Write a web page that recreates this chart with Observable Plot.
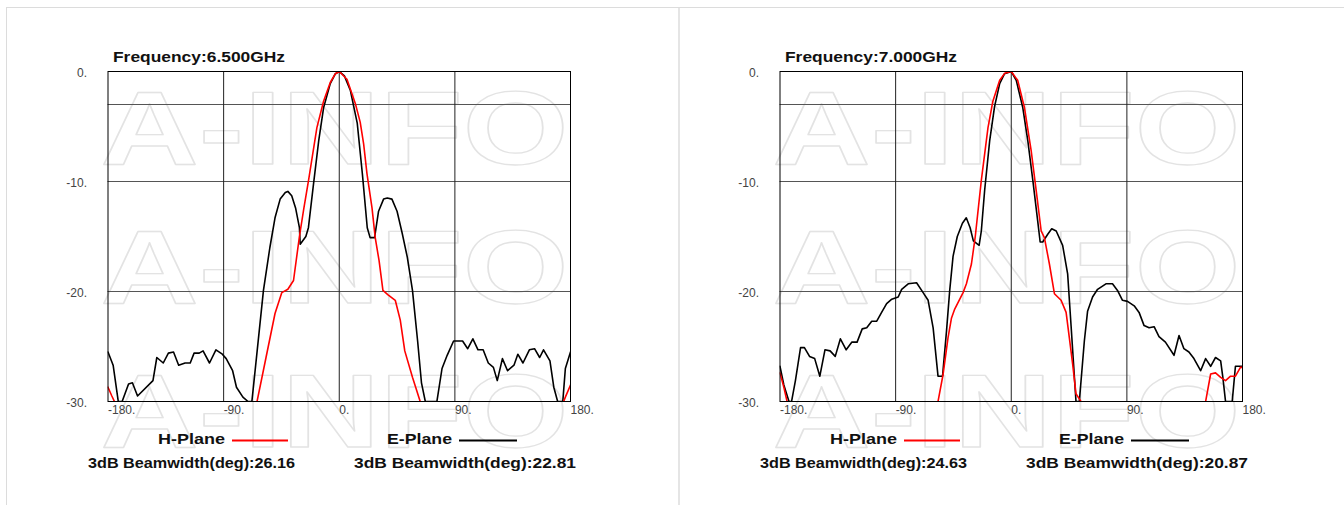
<!DOCTYPE html>
<html><head><meta charset="utf-8">
<script src="https://cdn.jsdelivr.net/npm/d3@7"></script>
<script src="https://cdn.jsdelivr.net/npm/@observablehq/plot@0.6"></script>
<style>
body{margin:0;background:#fff;}
#wrap{position:relative;width:1344px;height:505px;overflow:hidden;font-family:"Liberation Sans",Arial,sans-serif;}
.panel{position:absolute;top:0;}
#overlay{position:absolute;left:0;top:0;pointer-events:none;}
</style></head><body><div id="wrap"></div><script>
// ---------- data ----------
const xTicks = [-180, -90, 0, 90, 180];
const yTicks = [0, -10, -20, -30];
const titles = ["Frequency:6.500GHz", "Frequency:7.000GHz"];
const seriesNames = ["H-Plane", "E-Plane"];
const beamH = ["26.16", "24.63"];
const beamE = ["22.81", "20.87"];
const watermark = "A-INFO";

// 6.5 GHz H-plane (red)
const a65H = [-180,-177,-173,-170,-68,-64,-57,-50,-44.7,-40,-35.6,-31,-27.5,-23.9,-17.4,-12.2,-7,-3,0,6,12.5,16.3,19,21.6,25.5,28,31,34,38,43.6,47.5,51,57,63,66,170,173,176,180];
const v65H = [-28.7,-29.5,-30.5,-32,-32,-30,-26,-22,-20.1,-19.8,-19,-15,-12.4,-9.9,-5.1,-2.7,-1,-0.2,0,-0.7,-2.9,-4.6,-6.6,-9.3,-12.4,-15.1,-17.2,-19.9,-20.3,-20.8,-22.6,-25.4,-27.8,-30,-32,-32,-30.5,-29.6,-28.5];
// 6.5 GHz E-plane (black)
const a65E = [-180,-176,-172,-169,-164,-161,-157,-145,-142,-137,-133,-129,-125,-120,-116,-113,-109,-106,-101,-96,-91,-88,-83,-80,-75,-71,-68,-59,-54,-50,-46,-42,-40,-37,-34,-31,-30.4,-26,-24,-20,-16,-12.2,-7,-3,0,4,8.6,14,18,21.8,24,27.5,30.6,34.5,37.4,41,45,49,53,57,61,64,67,76,80,84,89,96,100,104,108,112,116,120,123,127,131,136,139,143,148,152,156,159,164,167,170,174,176,180];
const v65E = [-25.5,-26.7,-30,-30,-28.4,-28.3,-29.5,-28.1,-26,-26.5,-25.6,-25.5,-26.7,-26.5,-26.5,-25.6,-25.6,-25.4,-26.5,-25.3,-25.7,-26.1,-27.2,-28.7,-29.6,-30,-30,-19.9,-16,-13.3,-11.6,-11,-10.9,-11.3,-12.4,-14.2,-15.7,-15,-14.2,-10.2,-6.3,-3.3,-1.1,-0.2,0,-0.4,-1.7,-4.7,-9.3,-14.2,-15.1,-15.1,-12.7,-11.6,-11.5,-11.6,-12.7,-14.7,-16.9,-19.9,-24.5,-28.3,-30,-30,-27,-25.8,-24.5,-24.5,-25.2,-24.3,-25.3,-25.3,-26.5,-26.9,-28.1,-26.1,-27.2,-26.7,-25.7,-26.5,-25.3,-25.2,-26,-25.3,-26.3,-28.7,-30,-30,-27,-25.5];

// 7.0 GHz H-plane (red)
const a70H = [-180,-177,-174.5,-171,-60,-57,-53,-49.2,-46.5,-44,-37.5,-34.9,-31,-28,-23.3,-18.1,-14.3,-9,-5,0,5,10.3,15.5,19.4,23.3,25.8,29.7,33.6,38.8,42.7,45.2,47.8,50.4,54.3,57,148,151.3,155.2,159,163,166.8,170.7,174.5,178.4,180];
const v70H = [-27.4,-28.7,-30,-32,-32,-30,-27.5,-24.2,-22.4,-21.6,-20.1,-19.3,-17.5,-15,-9.9,-5.1,-2.7,-0.8,-0.15,0,-0.8,-3.3,-7.2,-10.8,-14.5,-15.1,-17.5,-20.2,-20.8,-21.9,-24.2,-26.6,-29.3,-30,-32,-32,-30,-27.5,-27.4,-27.8,-28.1,-27.7,-27.7,-26.9,-26.9];
// 7.0 GHz E-plane (black)
const a70E = [-180,-177,-173,-171,-168,-164,-161,-157,-153,-149,-145,-141,-137,-133,-128.5,-124,-120,-116,-112.5,-108.6,-104.7,-100.9,-97,-93,-88,-85.3,-80.2,-73.7,-68.6,-64.7,-60.8,-57,-53.5,-50.4,-47.9,-45.3,-42,-38,-35,-32,-29.5,-25,-23.3,-20.7,-16.8,-13,-9,-5.2,0,3.9,9,12.9,16.8,20.6,22.5,24.5,28.4,31.5,35,40,43.9,46.5,50.4,53,56.9,59.4,63.3,67.2,73.7,78.8,82.7,86.6,90.5,95.7,99.5,103.4,107.3,111.2,115,120,126.7,130.6,134.4,138.3,142.2,147.4,151.3,155.2,159,163,164.7,166.8,172,174.5,180];
const v70E = [-26.8,-28.5,-30,-30,-28.1,-25.1,-25.1,-25.9,-26.1,-27.7,-25.3,-25.4,-25.9,-24.3,-25.3,-24.6,-24.6,-23.4,-23.3,-22.7,-22.7,-21.9,-21.1,-20.7,-20.5,-19.8,-19.3,-19.2,-20.1,-20.8,-23.3,-27.7,-27.7,-23.6,-19.9,-16.8,-15,-13.8,-13.3,-14.2,-15.4,-15.8,-14.5,-10.8,-6.3,-3.2,-1.1,-0.2,0,-0.8,-3.3,-6.3,-9.9,-13.6,-15.5,-15.5,-14.8,-14.3,-14.5,-15.8,-18.4,-23,-30,-30,-24.5,-21.8,-20.5,-19.8,-19.3,-19.3,-19.9,-20.8,-20.9,-21.3,-21.9,-23.1,-23.3,-23.2,-24.1,-24.6,-25.8,-24,-25.2,-25.5,-26.1,-27.2,-26.1,-26.8,-26,-26.3,-27.8,-30,-30,-26.8,-26.8];

const rows = (a, v) => a.map((d, i) => ({a: d, v: v[i]}));
const panels = [
  {H: rows(a65H, v65H), E: rows(a65E, v65E), left: 0},
  {H: rows(a70H, v70H), E: rows(a70E, v70E), left: 672}
];

const wrap = document.getElementById("wrap");
const FONT = "Liberation Sans, Arial, sans-serif";
const wmBaselines = [163, 302, 446];

panels.forEach((p) => {
  const chart = Plot.plot({
    width: 672, height: 505,
    marginLeft: 107.5, marginRight: 102, marginTop: 71, marginBottom: 104,
    x: {domain: [-180, 180]},
    y: {domain: [-30, 0]},
    style: {background: "transparent", overflow: "visible", fontFamily: FONT},
    marks: [
      ...wmBaselines.map(b => Plot.text([watermark], {
        text: d => d, frameAnchor: "top-left", dx: -7.5, dy: b - 71,
        lineAnchor: "bottom", textAnchor: "start", fontSize: 104, fontWeight: "bold",
        fill: "none", stroke: "#e3e3e3", strokeWidth: 1.3
      })),
      Plot.ruleY([-3, -10, -20], {stroke: "#555"}),
      Plot.ruleX([-90, 0, 90], {stroke: "#222"}),
      Plot.line(p.E, {x: "a", y: "v", stroke: "black", strokeWidth: 1.6, clip: true}),
      Plot.line(p.H, {x: "a", y: "v", stroke: "#ff0000", strokeWidth: 1.6, clip: true}),
      Plot.frame({stroke: "black"}),
      Plot.axisY({ticks: yTicks, tickSize: 0, tickPadding: 21, tickFormat: d => d + ".", fontSize: 12, fill: "#444", dy: 1.5, label: null}),
      Plot.axisX({ticks: xTicks, tickSize: 0, tickPadding: 4, textAnchor: "start", tickFormat: d => d + ".", fontSize: 12, fill: "#444", label: null})
    ]
  });
  d3.select(chart).selectAll("text")
    .filter(function() { return this.textContent === watermark; })
    .attr("textLength", 468).attr("lengthAdjust", "spacingAndGlyphs");
  const div = document.createElement("div");
  div.className = "panel";
  div.style.left = p.left + "px";
  div.appendChild(chart);
  wrap.appendChild(div);
});

// ---------- overlay: frame lines, titles, legends ----------
const ov = d3.select(wrap).append("svg").attr("id", "overlay")
  .attr("width", 1344).attr("height", 505);
ov.append("line").attr("x1", 6).attr("x2", 1344).attr("y1", 7.5).attr("y2", 7.5).attr("stroke", "#dcdcdc");
ov.append("line").attr("x1", 6.5).attr("x2", 6.5).attr("y1", 7).attr("y2", 505).attr("stroke", "#dcdcdc");
ov.append("line").attr("x1", 679).attr("x2", 679).attr("y1", 7).attr("y2", 505).attr("stroke", "#dcdcdc").attr("stroke-width", 1.5);

function txt(s, x, y, len) {
  ov.append("text").attr("x", x).attr("y", y).text(s)
    .attr("font-family", FONT).attr("font-size", 15).attr("font-weight", "bold")
    .attr("fill", "#111").attr("textLength", len).attr("lengthAdjust", "spacingAndGlyphs");
}
panels.forEach((p, i) => {
  const o = p.left;
  txt(titles[i], 113 + o, 61.5, 172);
  txt(seriesNames[0], 158 + o, 443.5, 67);
  txt(seriesNames[1], 387 + o, 443.5, 65);
  ov.append("line").attr("x1", 232 + o).attr("x2", 288 + o).attr("y1", 440.5).attr("y2", 440.5).attr("stroke", "#ff0000").attr("stroke-width", 2);
  ov.append("line").attr("x1", 459 + o).attr("x2", 517 + o).attr("y1", 440.5).attr("y2", 440.5).attr("stroke", "black").attr("stroke-width", 2);
  txt("3dB Beamwidth(deg):" + beamH[i], 88 + o, 467.5, 207);
  txt("3dB Beamwidth(deg):" + beamE[i], 354 + o, 467.5, 222);
});
</script></body></html>
